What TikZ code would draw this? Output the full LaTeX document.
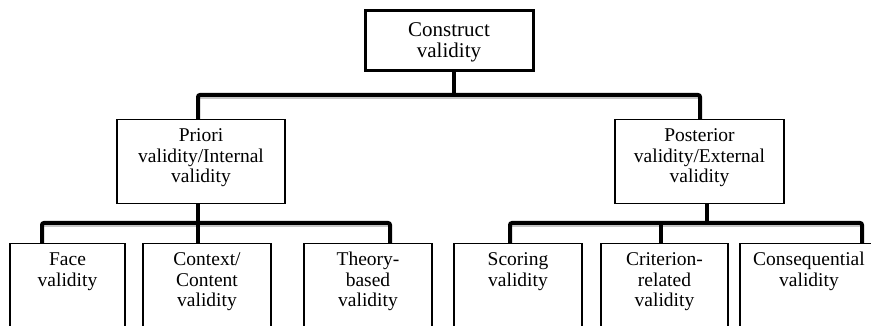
\documentclass[tikz,border=0pt]{standalone}
\usepackage{fontspec}
\setmainfont{Liberation Serif}
\usepackage{tikz}
\tikzset{box/.style={draw, rectangle, anchor=north, align=center,
           inner xsep=4pt, inner ysep=9pt, text height=13pt, line width=1.3pt,
           font=\fontsize{19.5}{20.5}\selectfont},
         topbox/.style={box, line width=3pt, text width=160pt, text height=17pt, text depth=25pt,
           font=\fontsize{21}{21}\selectfont},
         midbox/.style={box, text depth=53pt},
         leafbox/.style={box, text depth=100pt}, % leaves run off the bottom edge
         conn/.style={draw, line width=4pt, rounded corners=2pt},
         shade/.style={draw=gray!45, line width=1.5pt}}

\begin{document}
\begin{tikzpicture}[x=1pt, y=-1pt]
    \useasboundingbox (0,0) rectangle (871,326);
    \clip (0,0) rectangle (871,326);

    % levels
    \node[topbox] (construct) at (449,9) {Construct\\validity};
    \node[midbox, text width=160pt] (prio) at (201,119) {Priori\\validity/Internal\\validity};
    \node[midbox, text width=161pt] (post) at (699.5,119) {Posterior\\validity/External\\validity};

    \node[leafbox, text width=107pt] (face) at (67.5,243) {Face\\validity};
    \node[leafbox, text width=120pt] (context) at (207,243) {Context/\\Content\\validity};
    \node[leafbox, text width=120pt] (theory) at (368,243) {Theory-\\based\\validity};
    \node[leafbox, text width=120pt] (scoring) at (518,243) {Scoring\\validity};
    \node[leafbox, text width=119pt] (criterion) at (664.5,243) {Criterion-\\related\\validity};
    \node[leafbox, text width=130pt] (conseq) at (809,243) {Consequential\\validity};

    % junctions on the bars
    \coordinate (j0) at (454,95);
    \coordinate (a1) at (198,95);
    \coordinate (a2) at (700,95);
    \coordinate (b0) at (198,223);
    \coordinate (b1) at (42,223);
    \coordinate (b2) at (390,223);
    \coordinate (c0) at (707,223);
    \coordinate (c1) at (510,223);
    \coordinate (c2) at (862,223);
    \coordinate (c3) at (661,223);

    % faint shadow under the bars
    \draw[shade] ([yshift=-3pt]a1) -- ([yshift=-3pt]a2);
    \draw[shade] ([yshift=-3pt]b1) -- ([yshift=-3pt]b2);
    \draw[shade] ([yshift=-3pt]c1) -- ([yshift=-3pt]c2);

    \draw[conn] (construct.south -| j0) -- (j0);
    \draw[conn] (prio.north -| a1) -- (a1) -- (a2) -- (post.north -| a2);

    \draw[conn] (prio.south -| b0) -- (b0);
    \draw[conn] (face.north -| b1) -- (b1) -- (b2) -- (theory.north -| b2);
    \draw[conn] (context.north -| b0) -- (b0);

    \draw[conn] (post.south -| c0) -- (c0);
    \draw[conn] (scoring.north -| c1) -- (c1) -- (c2) -- (conseq.north -| c2);
    \draw[conn] (criterion.north -| c3) -- (c3);
\end{tikzpicture}
\end{document}
